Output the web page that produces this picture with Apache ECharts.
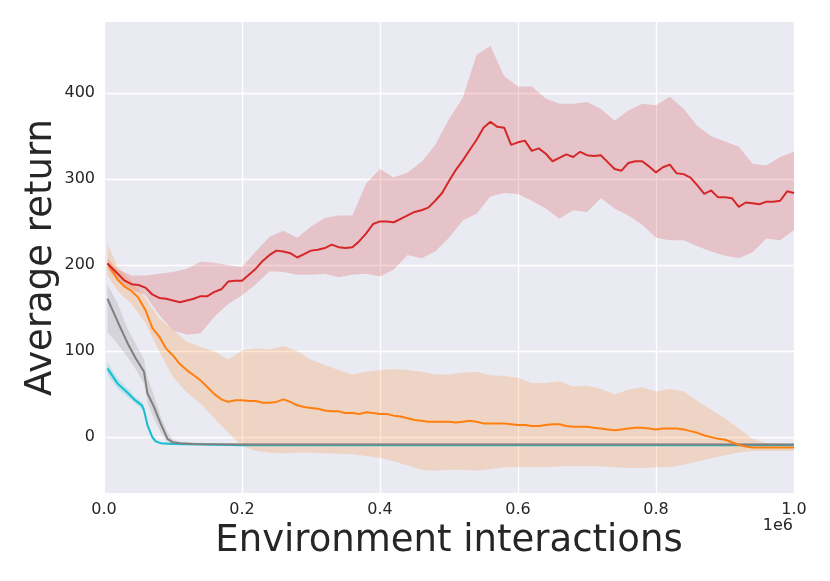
<!DOCTYPE html>
<html>
<head>
<meta charset="utf-8">
<script src="https://cdn.jsdelivr.net/npm/echarts@6/dist/echarts.min.js"></script>
<style>
  html, body { margin: 0; padding: 0; background: #fff; }
  #chart { width: 830px; height: 581px; }
</style>
</head>
<body>
<div id="chart"></div>
<script>
// x positions (in units of 1e6 interactions)
const meanX = [0.005, 0.01, 0.02, 0.03, 0.04, 0.05, 0.06, 0.07, 0.08, 0.09, 0.10,
  0.11, 0.12, 0.13, 0.14, 0.15, 0.16, 0.17, 0.18, 0.19, 0.20,
  0.21, 0.22, 0.23, 0.24, 0.25, 0.26, 0.27, 0.28, 0.29, 0.30,
  0.31, 0.32, 0.33, 0.34, 0.35, 0.36, 0.37, 0.38, 0.39, 0.40,
  0.41, 0.42, 0.43, 0.44, 0.45, 0.46, 0.47, 0.48, 0.49, 0.50,
  0.51, 0.52, 0.53, 0.54, 0.55, 0.56, 0.57, 0.58, 0.59, 0.60,
  0.61, 0.62, 0.63, 0.64, 0.65, 0.66, 0.67, 0.68, 0.69, 0.70,
  0.71, 0.72, 0.73, 0.74, 0.75, 0.76, 0.77, 0.78, 0.79, 0.80,
  0.81, 0.82, 0.83, 0.84, 0.85, 0.86, 0.87, 0.88, 0.89, 0.90,
  0.91, 0.92, 0.93, 0.94, 0.95, 0.96, 0.97, 0.98, 0.99, 1.00];

const redMean = [202, 198, 190, 182, 178, 177, 174, 166, 162, 161, 159,
  157, 159, 161, 164, 164, 169, 172, 181, 182, 182,
  189, 196, 205, 212, 217, 216, 214, 209, 213, 217,
  218, 220, 224, 221, 220, 221, 228, 237, 248, 251,
  251, 250, 254, 258, 262, 264, 267, 275, 284, 298,
  311, 322, 334, 346, 360, 367, 361, 360, 340, 343,
  345, 333, 336, 330, 321, 325, 329, 326, 332, 328,
  327, 328, 320, 312, 310, 319, 321, 321, 315, 308,
  314, 317, 307, 306, 302, 293, 283, 287, 279, 279,
  278, 268, 273, 272, 271, 274, 274, 275, 286, 284];

const orangeMean = [202, 196, 183, 175, 170, 162, 148, 127, 117, 103, 95,
  85, 78, 72, 66, 58, 50, 44, 41, 43, 43,
  42, 42, 40, 40, 41, 44, 41, 37, 35, 34,
  33, 31, 30, 30, 28, 28, 27, 29, 28, 27,
  27, 25, 24, 22, 20, 19, 18, 18, 18, 18,
  17, 18, 19, 18, 16, 16, 16, 16, 15, 14,
  14, 13, 13, 14, 15, 15, 13, 12, 12, 12,
  11, 10, 9, 8, 9, 10, 11, 11, 10, 9,
  10, 10, 10, 9, 7, 5, 2, 0, -2, -3,
  -6, -9, -11, -12, -12, -12, -12, -12, -12, -12];

const bandX = [0.005, 0.02, 0.04, 0.06, 0.08, 0.10, 0.12, 0.14, 0.16, 0.18, 0.20,
  0.22, 0.24, 0.26, 0.28, 0.30, 0.32, 0.34, 0.36, 0.38, 0.40,
  0.42, 0.44, 0.46, 0.48, 0.50, 0.52, 0.54, 0.56, 0.58, 0.60,
  0.62, 0.64, 0.66, 0.68, 0.70, 0.72, 0.74, 0.76, 0.78, 0.80,
  0.82, 0.84, 0.86, 0.88, 0.90, 0.92, 0.94, 0.96, 0.98, 1.00];

const redHi = [208, 195, 188, 188, 190, 192, 196, 204, 203, 200, 198,
  216, 233, 240, 232, 245, 255, 258, 258, 295, 312,
  302, 308, 320, 340, 370, 395, 445, 455, 420, 408,
  408, 394, 388, 388, 390, 382, 368, 380, 388, 386,
  396, 382, 362, 350, 344, 338, 318, 316, 326, 332];
const redLo = [196, 182, 172, 165, 142, 124, 119, 121, 140, 155, 165,
  178, 193, 192, 189, 189, 190, 186, 189, 190, 187,
  195, 212, 208, 216, 232, 252, 260, 280, 284, 283,
  275, 266, 254, 264, 262, 278, 266, 258, 247, 232,
  229, 229, 222, 216, 211, 208, 215, 231, 229, 241];

const orangeHi = [225, 198, 182, 162, 138, 125, 111, 105, 100, 90, 101,
  103, 102, 106, 100, 90, 84, 78, 73, 76, 78,
  79, 78, 76, 73, 73, 75, 76, 72, 71, 69,
  63, 63, 65, 59, 60, 56, 50, 55, 58, 53,
  56, 53, 42, 32, 22, 10, -2, -7, -8, -8];
const orangeLo = [188, 170, 155, 133, 100, 70, 52, 39, 22, 5, -10,
  -16, -18, -19, -18, -18, -19, -19, -20, -22, -24,
  -28, -33, -38, -39, -38, -38, -39, -37, -35, -35,
  -35, -35, -34, -34, -34, -34, -35, -36, -36, -35,
  -35, -32, -28, -25, -21, -18, -16, -16, -16, -16];

const grayX = [0.005, 0.02, 0.035, 0.045, 0.058, 0.063, 0.072, 0.082, 0.092, 0.10, 0.11, 0.13,
  0.2, 0.3, 0.4, 0.5, 0.6, 0.7, 0.8, 0.9, 1.0];
const grayMean = [161, 134, 108, 93, 76, 51, 36, 16, -2, -6, -7, -8,
  -8.5, -8.5, -8.5, -8.5, -8.5, -8.5, -8.5, -8.5, -8.5];
const grayHi = [178, 155, 125, 110, 90, 70, 50, 25, 6, -3, -5, -6.5,
  -7.5, -7.5, -7.5, -7.5, -7.5, -7.5, -7.5, -7.5, -7.5];
const grayLo = [122, 108, 92, 80, 62, 40, 22, 6, -6, -8, -8.5, -9,
  -9.5, -9.5, -9.5, -9.5, -9.5, -9.5, -9.5, -9.5, -9.5];

const cyanX = [0.005, 0.02, 0.035, 0.045, 0.055, 0.058, 0.063, 0.07, 0.075, 0.082, 0.10,
  0.2, 0.3, 0.4, 0.5, 0.6, 0.7, 0.8, 0.9, 1.0];
const cyanMean = [80, 62, 51, 43, 37, 31, 14, 0, -5, -7, -8,
  -9.5, -9.5, -9.5, -9.5, -9.5, -9.5, -9.5, -9.5, -9.5];
const cyanHi = [87, 68, 56, 47, 41, 35, 18, 3, -3, -6, -7.5,
  -9, -9, -9, -9, -9, -9, -9, -9, -9];
const cyanLo = [73, 56, 46, 39, 33, 27, 10, -3, -7, -8, -8.5,
  -10, -10, -10, -10, -10, -10, -10, -10, -10];

const yTicks = [0, 100, 200, 300, 400];

const FONT = "DejaVu Sans";
const TEXT = "#262626";

function pairs(xs, ys) {
  return xs.map((x, i) => [x, ys[i]]);
}

// shaded band drawn as one polygon: upper edge forward, lower edge back
function band(xs, lo, hi, color) {
  return {
    type: "custom", silent: true,
    data: [[xs[0], lo[0]]],
    renderItem: function (params, api) {
      const pts = [];
      for (let i = 0; i < xs.length; i++) pts.push(api.coord([xs[i], hi[i]]));
      for (let i = xs.length - 1; i >= 0; i--) pts.push(api.coord([xs[i], lo[i]]));
      return {
        type: "polygon",
        shape: { points: pts },
        style: { fill: color }
      };
    }
  };
}

function line(xs, ys, color) {
  return {
    type: "line", data: pairs(xs, ys), showSymbol: false, silent: true,
    lineStyle: { color: color, width: 2 }
  };
}

const chart = echarts.init(document.getElementById("chart"));
chart.setOption({
  animation: false,
  backgroundColor: "#ffffff",
  grid: {
    left: 104, right: 36, top: 22, bottom: 88,
    show: true, backgroundColor: "#EAEAF2", borderWidth: 0
  },
  xAxis: {
    type: "value", min: 0, max: 1, interval: 0.2,
    axisLine: { show: false }, axisTick: { show: false },
    axisLabel: {
      margin: 9, fontFamily: FONT, fontSize: 16, color: TEXT,
      formatter: v => v.toFixed(1)
    },
    splitLine: { lineStyle: { color: "#ffffff", width: 1.3 } },
    name: "Environment interactions", nameLocation: "middle", nameGap: 25,
    nameTextStyle: { fontFamily: FONT, fontSize: 37, color: TEXT }
  },
  yAxis: {
    type: "value", min: -65, max: 483,
    axisLine: { show: false },
    axisTick: { show: false, customValues: yTicks },
    axisLabel: {
      margin: 9, fontFamily: FONT, fontSize: 16, color: TEXT,
      customValues: yTicks
    },
    splitLine: { lineStyle: { color: "#ffffff", width: 1.3 } },
    name: "Average return", nameLocation: "middle", nameGap: 44,
    nameMoveOverlap: false,
    nameTextStyle: { fontFamily: FONT, fontSize: 37, color: TEXT }
  },
  graphic: [{
    type: "text", right: 37, top: 518,
    style: { text: "1e6", fontFamily: FONT, fontSize: 16, fill: TEXT }
  }],
  series: [
    band(bandX, redLo, redHi, "rgba(214,39,40,0.2)"),
    band(bandX, orangeLo, orangeHi, "rgba(255,127,14,0.2)"),
    band(grayX, grayLo, grayHi, "rgba(127,127,127,0.2)"),
    band(cyanX, cyanLo, cyanHi, "rgba(23,190,207,0.2)"),
    line(cyanX, cyanMean, "#17becf"),
    line(grayX, grayMean, "#7f7f7f"),
    line(meanX, orangeMean, "#ff7f0e"),
    line(meanX, redMean, "#d62728")
  ]
});
</script>
</body>
</html>
